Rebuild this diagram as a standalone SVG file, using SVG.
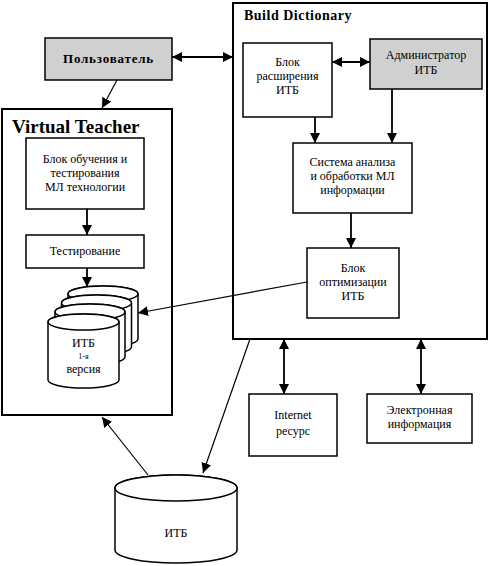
<svg xmlns="http://www.w3.org/2000/svg" width="489" height="566" viewBox="0 0 489 566">
<style>
.b{fill:#fff;stroke:#000;stroke-width:1.5}
.g{fill:#d0d0d0;stroke:#000;stroke-width:1.5}
.o{fill:#fff;stroke:#000;stroke-width:2}
.t{font-family:"Liberation Serif",serif;font-size:12px;text-anchor:middle;fill:#000}
.h{font-family:"Liberation Serif",serif;font-weight:bold;fill:#000}
.c{fill:none;stroke:#000;stroke-width:1.2}
.c2{fill:none;stroke:#000;stroke-width:1.8}
</style>
<defs>
<marker id="a" viewBox="0 0 10 10" refX="10" refY="5" markerWidth="10" markerHeight="10" markerUnits="userSpaceOnUse" orient="auto-start-reverse"><path d="M0,0 L10,5 L0,10 z" fill="#000"/></marker>
</defs>
<rect width="489" height="566" fill="#fff"/>
<g id="build-dictionary">
<rect class="o" x="233" y="3" width="254" height="336"/>
<text class="h" x="244" y="20" font-size="14" letter-spacing="0.5">Build Dictionary</text>
</g>
<g id="virtual-teacher">
<rect class="o" x="2" y="109" width="170" height="306"/>
<text class="h" x="12" y="133" font-size="19">Virtual Teacher</text>
</g>
<g id="user">
<rect class="g" x="45" y="38" width="127" height="42"/>
<text class="h" x="108.5" y="63" font-size="13" letter-spacing="0.8" text-anchor="middle">Пользователь</text>
</g>
<g id="learn">
<rect class="b" x="26" y="138" width="118" height="71"/>
<text class="t" x="85" y="163">Блок обучения и</text>
<text class="t" x="85" y="177">тестирования</text>
<text class="t" x="85" y="191">МЛ технологии</text>
</g>
<g id="test">
<rect class="b" x="26" y="235" width="118" height="33"/>
<text class="t" x="85" y="255">Тестирование</text>
</g>
<g id="versions">
<path class="b" d="M68,294 L68,339 A35,8 0 0 0 138,339 L138,294 A35,8 0 0 0 68,294 Z"/>
<ellipse class="b" cx="103" cy="294" rx="35" ry="8"/>
<path class="b" d="M61.5,303 L61.5,347 A35,8 0 0 0 131.5,347 L131.5,303 A35,8 0 0 0 61.5,303 Z"/>
<ellipse class="b" cx="96.5" cy="303" rx="35" ry="8"/>
<path class="b" d="M55,312 L55,357 A35,8 0 0 0 125,357 L125,312 A35,8 0 0 0 55,312 Z"/>
<ellipse class="b" cx="90" cy="312" rx="35" ry="8"/>
<path class="b" d="M48,322 L48,380 A35.5,8 0 0 0 119,380 L119,322 A35.5,8 0 0 0 48,322 Z"/>
<ellipse class="b" cx="83.5" cy="322" rx="35.5" ry="8"/>
<text class="t" x="83.5" y="347" style="font-size:12px">ИТБ</text>
<text class="t" x="83.5" y="359" style="font-size:8px">1-я</text>
<text class="t" x="83.5" y="373" style="font-size:12px">версия</text>
</g>
<g id="expand">
<rect class="b" x="243" y="43" width="89" height="74"/>
<text class="t" x="287.5" y="66">Блок</text>
<text class="t" x="287.5" y="80">расширения</text>
<text class="t" x="287.5" y="94">ИТБ</text>
</g>
<g id="admin">
<rect class="g" x="370" y="39" width="112" height="50"/>
<text class="t" x="426" y="59">Администратор</text>
<text class="t" x="426" y="74">ИТБ</text>
</g>
<g id="analysis">
<rect class="b" x="293" y="143" width="119" height="70"/>
<text class="t" x="352.5" y="166">Система анализа</text>
<text class="t" x="352.5" y="180">и обработки МЛ</text>
<text class="t" x="352.5" y="194">информации</text>
</g>
<g id="optim">
<rect class="b" x="307" y="248" width="92" height="70"/>
<text class="t" x="353" y="272">Блок</text>
<text class="t" x="353" y="286">оптимизации</text>
<text class="t" x="353" y="300">ИТБ</text>
</g>
<g id="internet">
<rect class="b" x="249" y="394" width="88" height="62"/>
<text class="t" x="293" y="419">Internet</text>
<text class="t" x="293" y="435">ресурс</text>
</g>
<g id="einfo">
<rect class="b" x="367" y="394" width="105" height="49"/>
<text class="t" x="419.5" y="414">Электронная</text>
<text class="t" x="419.5" y="428">информация</text>
</g>
<g id="itb">
<path class="b" d="M115,488 L115,550 A61,13 0 0 0 237,550 L237,488 A61,13 0 0 0 115,488 Z"/>
<ellipse class="b" cx="176" cy="488" rx="61" ry="13"/>
<text class="t" x="176" y="537">ИТБ</text>
</g>
<g id="connectors">
<line class="c2" x1="172" y1="57" x2="233" y2="57" marker-start="url(#a)" marker-end="url(#a)"/>
<line class="c" x1="117" y1="80" x2="102" y2="108" marker-end="url(#a)"/>
<line class="c2" x1="87" y1="209" x2="87" y2="235" marker-end="url(#a)"/>
<line class="c2" x1="87" y1="268" x2="87" y2="287" marker-end="url(#a)"/>
<line class="c2" x1="332" y1="62" x2="370" y2="62" marker-start="url(#a)" marker-end="url(#a)"/>
<line class="c2" x1="315" y1="117" x2="315" y2="143" marker-end="url(#a)"/>
<line class="c2" x1="392" y1="89" x2="392" y2="143" marker-end="url(#a)"/>
<line class="c2" x1="351" y1="213" x2="351" y2="248" marker-end="url(#a)"/>
<line class="c" x1="307" y1="282" x2="138" y2="313" marker-end="url(#a)"/>
<line class="c" x1="250" y1="339" x2="203" y2="473" marker-end="url(#a)"/>
<line class="c" x1="148" y1="475" x2="102" y2="417" marker-end="url(#a)"/>
<line class="c2" x1="284" y1="339" x2="284" y2="394" marker-start="url(#a)" marker-end="url(#a)"/>
<line class="c2" x1="421" y1="339" x2="421" y2="394" marker-start="url(#a)" marker-end="url(#a)"/>
</g>
</svg>
